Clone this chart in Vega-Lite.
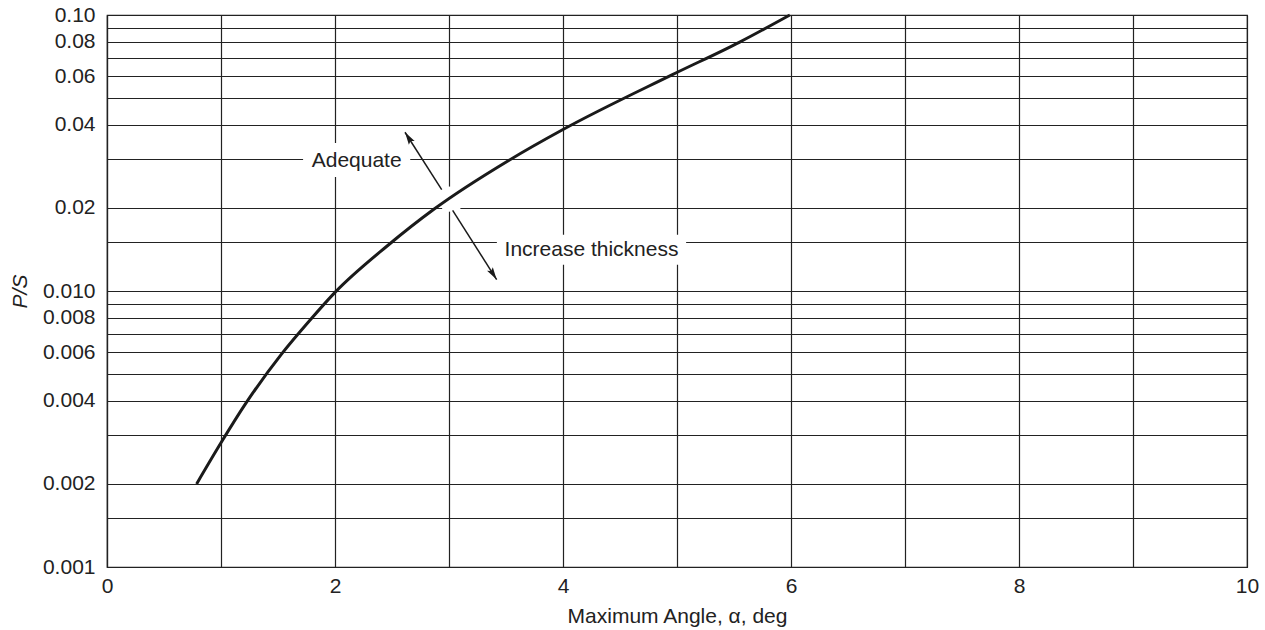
{
  "$schema": "https://vega.github.io/schema/vega-lite/v6.json",
  "width": 1140,
  "height": 552,
  "autosize": {"type": "none"},
  "padding": {"left": 107, "top": 15, "right": 18, "bottom": 63},
  "background": "white",
  "config": {
    "font": "Liberation Sans",
    "view": {"stroke": "#222", "strokeWidth": 1.2},
    "axis": {
      "domainColor": "#222",
      "domainWidth": 1.2,
      "gridColor": "#222",
      "gridWidth": 1.2,
      "gridOpacity": 1,
      "ticks": false,
      "labelFontSize": 21,
      "labelColor": "#222",
      "titleFontSize": 21,
      "titleColor": "#222",
      "titleFontWeight": "normal",
      "labelOverlap": false,
      "labelBound": false,
      "labelFlush": false
    }
  },
  "datasets": {
    "curve": [
      {"x": 0.786, "y": 0.002},
      {"x": 1.0, "y": 0.002818},
      {"x": 1.21, "y": 0.003873},
      {"x": 1.534, "y": 0.005929},
      {"x": 1.78, "y": 0.007834},
      {"x": 2.0, "y": 0.009886},
      {"x": 2.46, "y": 0.014588},
      {"x": 2.87, "y": 0.019815},
      {"x": 3.52, "y": 0.029648},
      {"x": 4.0, "y": 0.03846},
      {"x": 4.96, "y": 0.060814},
      {"x": 5.55, "y": 0.079799},
      {"x": 5.99, "y": 0.1}
    ],
    "boxes": [
      {"x": 1.72, "x2": 2.66, "y": 0.0259, "y2": 0.0344},
      {"x": 3.42, "x2": 5.08, "y": 0.01245, "y2": 0.016},
      {"x": 2.94, "x2": 3.10, "y": 0.01938, "y2": 0.0239}
    ],
    "labels": [
      {"x": 2.19, "y": 0.0295, "text": "Adequate"},
      {"x": 4.25, "y": 0.0141, "text": "Increase thickness"}
    ],
    "arrows": [
      {"name": "Adequate", "x": 2.936, "y": 0.0233, "x2": 2.614, "y2": 0.0376},
      {"name": "Increase", "x": 3.032, "y": 0.0196, "x2": 3.418, "y2": 0.011}
    ]
  },
  "layer": [
    {
      "data": {"name": "boxes"},
      "mark": {"type": "rect", "fill": "white", "strokeWidth": 0},
      "encoding": {
        "x": {
          "field": "x", "type": "quantitative",
          "scale": {"domain": [0, 10], "nice": false, "zero": false},
          "axis": {
            "title": "Maximum Angle, α, deg",
            "values": [0, 1, 2, 3, 4, 5, 6, 7, 8, 9, 10],
            "format": "d",
            "labelExpr": "datum.value % 2 === 0 ? datum.label : ''",
            "labelPadding": 8,
            "titlePadding": 9
          }
        },
        "x2": {"field": "x2"},
        "y": {
          "field": "y", "type": "quantitative",
          "scale": {"type": "log", "domain": [0.001, 0.1], "nice": false},
          "axis": {
            "title": "P/S",
            "titleFontStyle": "italic",
            "values": [0.001, 0.0015, 0.002, 0.003, 0.004, 0.005, 0.006, 0.007, 0.008, 0.009, 0.01, 0.015, 0.02, 0.03, 0.04, 0.05, 0.06, 0.07, 0.08, 0.09, 0.1],
            "labelExpr": "datum.value === 0.01 ? '0.010' : (datum.value === 0.1 ? '0.10' : (indexof([0.001, 0.002, 0.004, 0.006, 0.008, 0.02, 0.04, 0.06, 0.08], datum.value) >= 0 ? format(datum.value, '~g') : ''))",
            "labelPadding": 12,
            "titlePadding": 12
          }
        },
        "y2": {"field": "y2"}
      }
    },
    {
      "data": {"name": "curve"},
      "mark": {"type": "line", "color": "#1a1a1a", "strokeWidth": 3, "interpolate": "monotone"},
      "encoding": {
        "x": {"field": "x", "type": "quantitative"},
        "y": {"field": "y", "type": "quantitative"}
      }
    },
    {
      "data": {"name": "arrows"},
      "mark": {"type": "rule", "color": "#1a1a1a", "strokeWidth": 1.5},
      "encoding": {
        "x": {"field": "x", "type": "quantitative"},
        "y": {"field": "y", "type": "quantitative"},
        "x2": {"field": "x2"},
        "y2": {"field": "y2"}
      }
    },
    {
      "data": {"name": "arrows"},
      "transform": [{"filter": "datum.name === 'Adequate'"}],
      "mark": {"type": "point", "shape": "M0,0L0.6,2.2L0,1.8L-0.6,2.2Z", "size": 130, "filled": true, "color": "#1a1a1a", "opacity": 1, "strokeWidth": 0, "angle": 327.4},
      "encoding": {
        "x": {"field": "x2", "type": "quantitative"},
        "y": {"field": "y2", "type": "quantitative"}
      }
    },
    {
      "data": {"name": "arrows"},
      "transform": [{"filter": "datum.name === 'Increase'"}],
      "mark": {"type": "point", "shape": "M0,0L0.6,2.2L0,1.8L-0.6,2.2Z", "size": 130, "filled": true, "color": "#1a1a1a", "opacity": 1, "strokeWidth": 0, "angle": 147.6},
      "encoding": {
        "x": {"field": "x2", "type": "quantitative"},
        "y": {"field": "y2", "type": "quantitative"}
      }
    },
    {
      "data": {"name": "labels"},
      "mark": {"type": "text", "fontSize": 21, "color": "#222", "align": "center", "baseline": "middle"},
      "encoding": {
        "x": {"field": "x", "type": "quantitative"},
        "y": {"field": "y", "type": "quantitative"},
        "text": {"field": "text"}
      }
    }
  ]
}
